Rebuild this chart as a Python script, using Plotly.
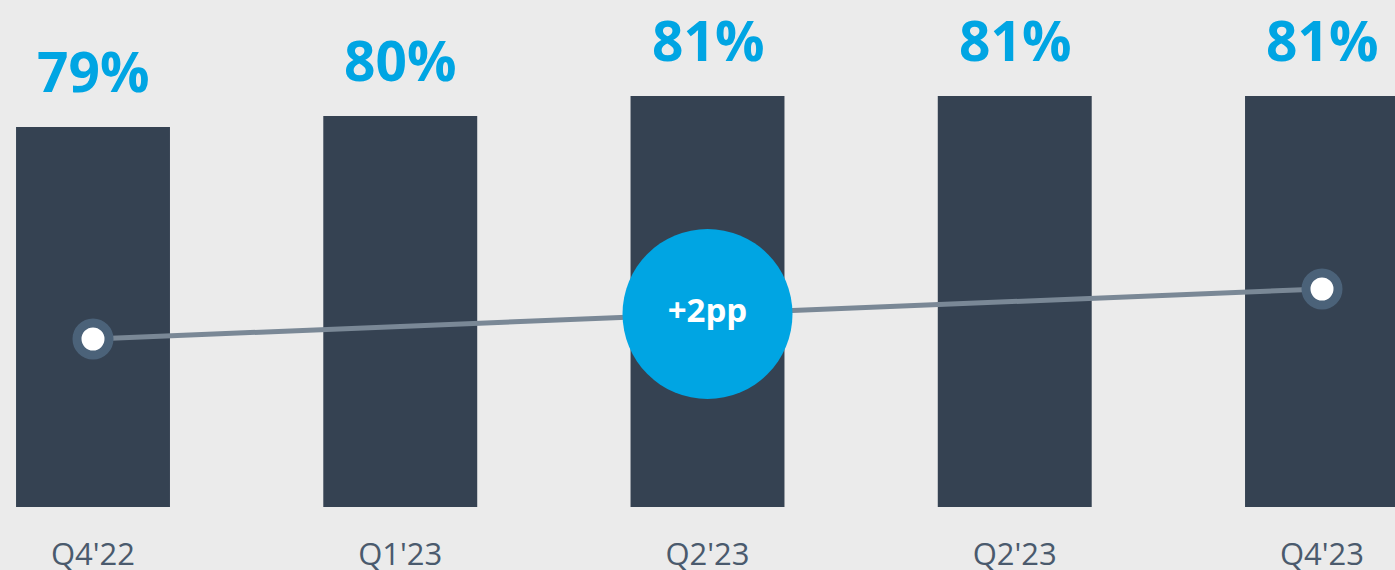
import plotly.graph_objects as go

# data
quarters = ["Q4'22", "Q1'23", "Q2'23", "Q2'23", "Q4'23"]
share = [79.4, 79.9, 80.8, 80.8, 80.8]
share_labels = ["79%", "80%", "81%", "81%", "81%"]
trend_x = [0, 4]
trend_y = [79, 81]
change_label = "+2pp"

BG = '#ebebeb'
BAR = '#354252'
BLUE = '#00a5e3'
GREY_TXT = '#4a5a6d'
FONT = 'Open Sans'

xs = list(range(len(quarters)))

fig = go.Figure()

fig.add_trace(go.Bar(
    x=xs, y=share, width=0.501,
    marker=dict(color=BAR, line=dict(width=0)),
    hoverinfo='skip', showlegend=False
))

# trend line with end markers (secondary axis)
fig.add_trace(go.Scatter(
    x=trend_x, y=trend_y, yaxis='y2', mode='lines+markers',
    line=dict(color='#7a8896', width=5),
    marker=dict(size=32, color='white', line=dict(color='#4b6279', width=9)),
    hoverinfo='skip', showlegend=False
))

# change badge at the middle of the trend
fig.add_trace(go.Scatter(
    x=[sum(trend_x) / 2], y=[sum(trend_y) / 2], yaxis='y2', mode='markers+text',
    marker=dict(size=170, color=BLUE, line=dict(width=0)),
    text=[change_label], textposition='middle center',
    textfont=dict(family=FONT, size=33, color='white', weight='bold'),
    hoverinfo='skip', showlegend=False
))

for x, v, lab in zip(xs, share, share_labels):
    fig.add_annotation(
        x=x, y=v, text=lab, showarrow=False,
        yanchor='middle', yshift=57,
        font=dict(family=FONT, size=55, color=BLUE, weight='bold')
    )

fig.update_layout(
    width=1395, height=570,
    margin=dict(t=0, r=0, b=63, l=0),
    paper_bgcolor=BG, plot_bgcolor=BG,
    xaxis=dict(
        range=[-0.3027, 4.2376], tickvals=xs, ticktext=quarters,
        showgrid=False, zeroline=False, showline=False, automargin=False,
        ticks='', ticklabelstandoff=26,
        tickfont=dict(family=FONT, size=31, color=GREY_TXT)
    ),
    yaxis=dict(range=[62.24, 85.14], visible=False, fixedrange=True),
    yaxis2=dict(range=[72.28, 92.56], overlaying='y', visible=False),
    font=dict(family=FONT)
)

fig.write_html("out.html", config={'displayModeBar': False},
               post_script="document.body.style.margin='0';")
